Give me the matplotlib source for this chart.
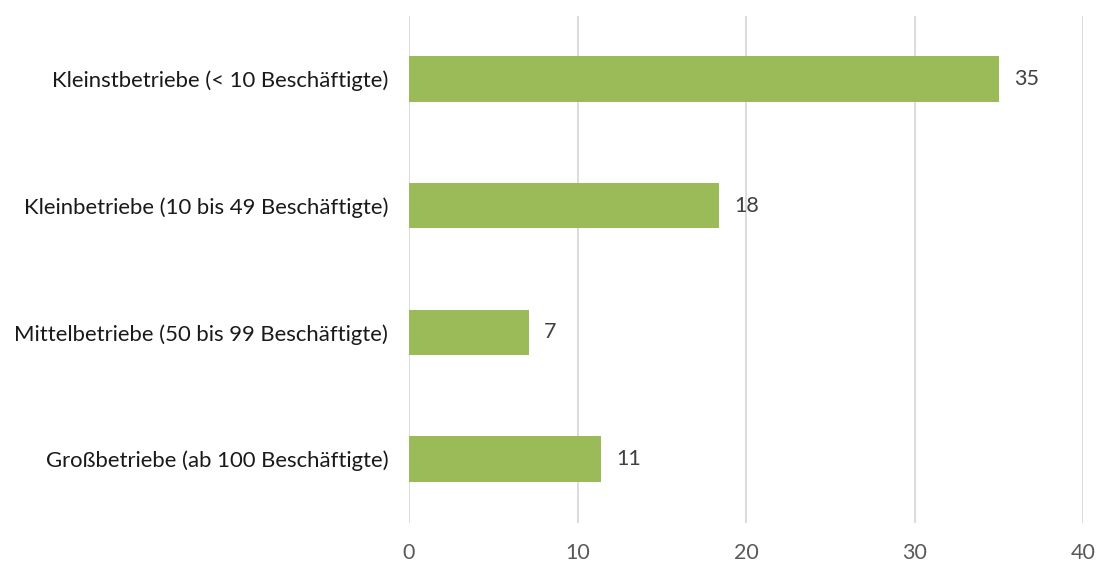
import matplotlib
matplotlib.use("Agg")
import matplotlib.pyplot as plt

categories = [
    "Kleinstbetriebe (< 10 Beschäftigte)",
    "Kleinbetriebe (10 bis 49 Beschäftigte)",
    "Mittelbetriebe (50 bis 99 Beschäftigte)",
    "Großbetriebe (ab 100 Beschäftigte)",
]
values = [35.0, 18.4, 7.1, 11.4]
xticks = [0, 10, 20, 30, 40]

plt.rcParams['font.family'] = ['Lato', 'DejaVu Sans']

W, H = 1097, 565
fig = plt.figure(figsize=(W / 100, H / 100), dpi=100)
ax = fig.add_axes([409 / W, 1 - 522.5 / H, (1083 - 409) / W, (522.5 - 15.5) / H])

y = list(range(len(categories)))
ax.barh(y, values, height=0.36, color="#9BBB59", zorder=3)
for yi, v in zip(y, values):
    ax.annotate(f"{v:.0f}", xy=(v, yi), xytext=(11, 0), textcoords="offset points",
                va="center", ha="left", fontsize=15.5, color="#404040")

ax.set_xlim(0, 40)
ax.set_ylim(len(categories) - 0.5, -0.5)
ax.set_xticks(xticks)
ax.set_xticklabels([str(t) for t in xticks], fontsize=15.5, color="#595959")
ax.set_yticks(y)
ax.set_yticklabels(categories, fontsize=15.9, color="#1a1a1a")
ax.tick_params(axis="x", length=0, pad=15)
ax.tick_params(axis="y", length=0, pad=15)
ax.grid(axis="x", color="#D9D9D9", linewidth=1.3, zorder=0)
for s in ax.spines.values():
    s.set_visible(False)

fig.savefig("out.png", dpi=100, facecolor="white")
